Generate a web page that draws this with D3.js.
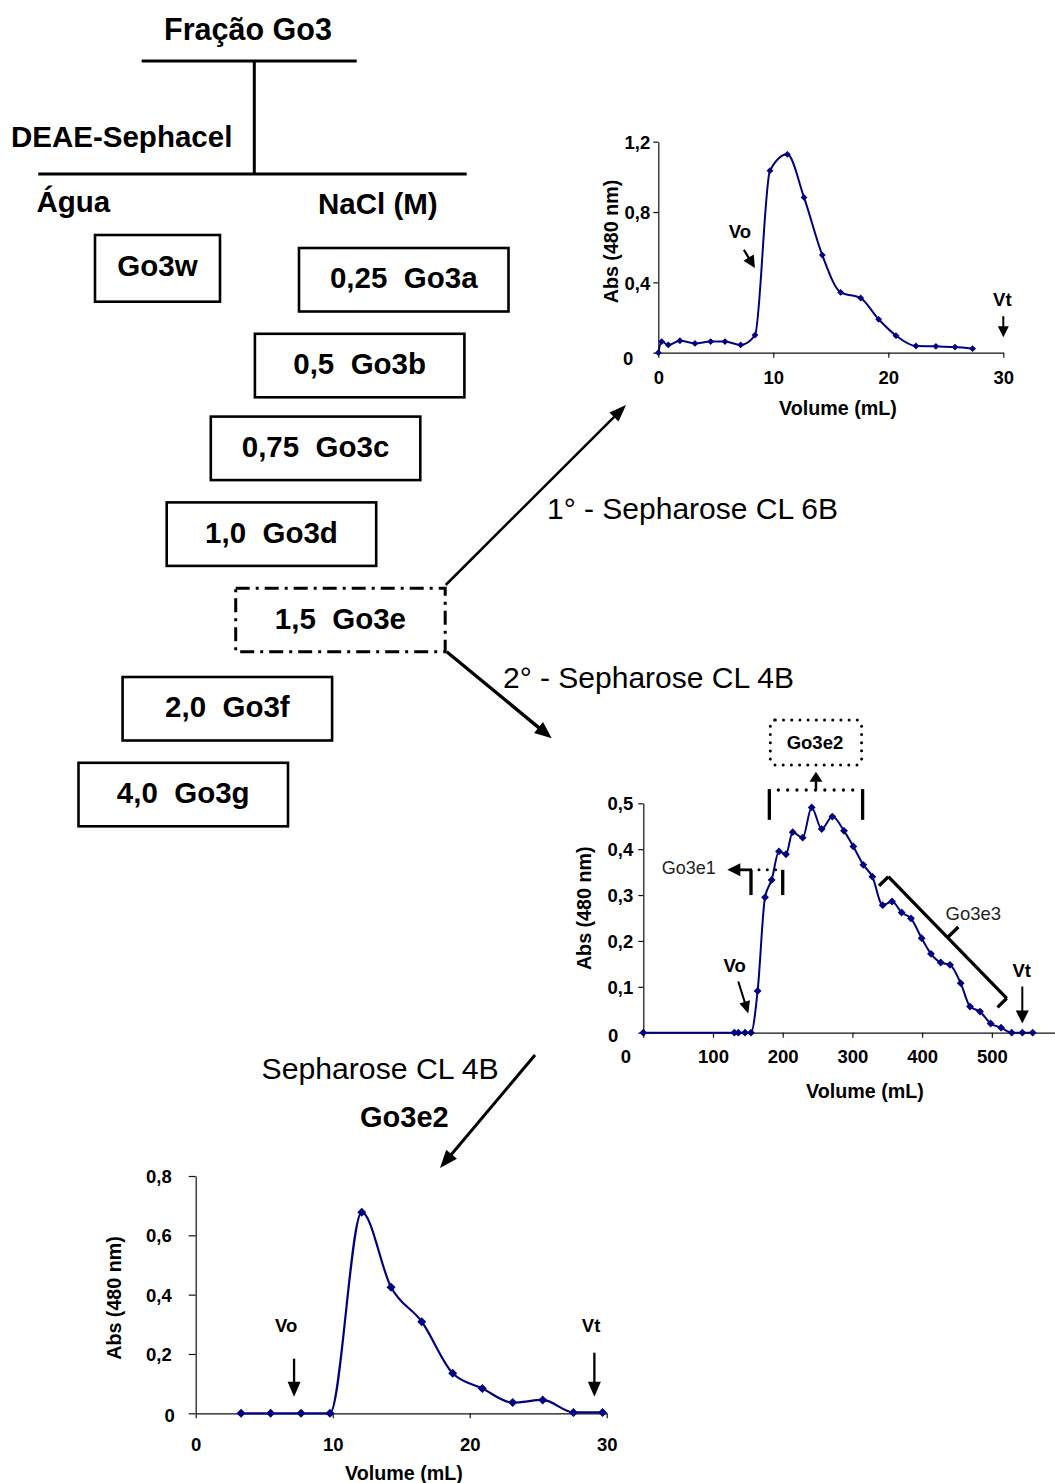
<!DOCTYPE html>
<html>
<head>
<meta charset="utf-8">
<script src="https://cdn.jsdelivr.net/npm/d3@7"></script>
<style>
  body { margin: 0; background: #fff; }
  svg { display: block; font-family: "Liberation Sans", Arial, Helvetica, sans-serif; }
</style>
</head>
<body>
<svg id="fig" width="1055" height="1483"></svg>
<script>
// ---------------- Data ----------------
// DEAE-Sephacel fractions of Go3
const waterFraction = "Go3w";
const saltFractions = ["Go3a", "Go3b", "Go3c", "Go3d", "Go3e", "Go3f", "Go3g"];
const saltMolarity = ["0,25", "0,5", "0,75", "1,0", "1,5", "2,0", "4,0"];

// 1st gel filtration of Go3e (Sepharose CL 6B)
const run1Volume = [0, 0.29, 0.87, 1.88, 3.19, 4.55, 5.8, 7.16, 8.41, 9.71, 11.22, 12.67, 14.26, 15.86, 17.6, 19.16, 20.67, 22.41, 24.14, 25.8, 27.33];
const run1Abs = [0, 0.063, 0.044, 0.068, 0.053, 0.063, 0.063, 0.044, 0.10, 1.035, 1.128, 0.883, 0.555, 0.343, 0.311, 0.19, 0.097, 0.038, 0.036, 0.032, 0.023];
const run1XTicks = [0, 10, 20, 30];
const run1YTicks = [0, 0.4, 0.8, 1.2];
const run1Markers = { Vo: 8.4, Vt: 30 };

// 2nd gel filtration of Go3e (Sepharose CL 4B)
const run2Volume = [0, 130.6, 136.3, 145.9, 154.5, 164, 174.6, 184.1, 194.6, 204.7, 214.3, 228.6, 241.5, 255.9, 271.2, 287.9, 301.3, 315.6, 328.6, 343.4, 356.8, 370.6, 384, 399.3, 412.7, 426.6, 440, 455.3, 468.7, 483, 498.3, 513.2, 528.5, 543.8, 558.6];
const run2Abs = [0, 0, 0, 0, 0, 0.091, 0.295, 0.333, 0.395, 0.389, 0.437, 0.425, 0.491, 0.444, 0.471, 0.44, 0.406, 0.366, 0.34, 0.278, 0.286, 0.262, 0.249, 0.206, 0.172, 0.153, 0.148, 0.108, 0.057, 0.046, 0.020, 0.011, 0, 0, 0];
const run2XTicks = [0, 100, 200, 300, 400, 500];
const run2YTicks = [0, 0.1, 0.2, 0.3, 0.4, 0.5];
const run2Markers = { Vo: 150.6, Vt: 543.7 };
// pooled sub-fractions (volume ranges, mL)
const poolGo3e1 = [154.5, 200];
const poolGo3e2 = [180.8, 314.6];
const poolGo3e3 = [351.5, 521.4];

// Re-chromatography of Go3e2 (Sepharose CL 4B)
const run3Volume = [3.31, 5.47, 7.69, 9.8, 12.12, 14.26, 16.5, 18.76, 20.92, 23.14, 25.33, 27.57, 29.7];
const run3Abs = [0, 0, 0, 0, 0.678, 0.425, 0.309, 0.135, 0.084, 0.036, 0.045, 0.003, 0.003];
const run3XTicks = [0, 10, 20, 30];
const run3YTicks = [0, 0.2, 0.4, 0.6, 0.8];
const run3Markers = { Vo: 7.18, Vt: 29.1 };

// ---------------- Drawing ----------------
const svg = d3.select("#fig");
svg.append("rect").attr("width", 1055).attr("height", 1483).attr("fill", "#fff");

const INK = "#000";
const SERIES = "#000080";
const TICK_FS = 18.5;
const TITLE_FS = 19.7;

function label(g, s, x, cy, o = {}) {
  const size = o.size || TICK_FS;
  return g.append("text")
    .attr("x", x).attr("y", cy + 0.36 * size)
    .attr("font-size", size)
    .attr("font-weight", o.weight || "bold")
    .attr("text-anchor", o.anchor || "middle")
    .attr("fill", o.fill || INK)
    .style("white-space", "pre")
    .text(s);
}

function arrow(g, x1, y1, x2, y2, head, width, sw) {
  const a = Math.atan2(y2 - y1, x2 - x1);
  const bx = x2 - head * Math.cos(a), by = y2 - head * Math.sin(a);
  g.append("line").attr("x1", x1).attr("y1", y1).attr("x2", bx + Math.cos(a)).attr("y2", by + Math.sin(a))
    .attr("stroke", INK).attr("stroke-width", sw);
  const px = -Math.sin(a) * width / 2, py = Math.cos(a) * width / 2;
  g.append("path").attr("d", `M${x2},${y2}L${bx + px},${by + py}L${bx - px},${by - py}Z`).attr("fill", INK);
}

function seg(g, x1, y1, x2, y2, sw, dash) {
  const l = g.append("line").attr("x1", x1).attr("y1", y1).attr("x2", x2).attr("y2", y2)
    .attr("stroke", INK).attr("stroke-width", sw);
  if (dash) l.attr("stroke-dasharray", dash).attr("stroke-linecap", "round");
  return l;
}

const commaFmt = v => v === 0 ? "0" : d3.format(".1f")(v).replace(".", ",");

function drawChart(o) {
  const g = svg.append("g");
  const x = d3.scaleLinear().domain(o.xDomain).range([o.left, o.right]);
  const y = d3.scaleLinear().domain(o.yDomain).range([o.bottom, o.top]);

  const ya = g.append("g").attr("transform", `translate(${o.left},0)`)
    .call(d3.axisLeft(y).tickValues(o.yTicks).tickSize(o.yTickSize).tickSizeOuter(0)
      .tickPadding(o.yPad).tickFormat(commaFmt));
  const xa = g.append("g").attr("transform", `translate(0,${o.bottom})`)
    .call(d3.axisBottom(x).tickValues(o.xTicks).tickSize(5).tickSizeOuter(0)
      .tickPadding(o.xPad).tickFormat(d3.format("d")));

  [ya, xa].forEach(a => {
    a.select(".domain").attr("stroke", "#111").attr("stroke-width", 1.2);
    a.selectAll(".tick line").attr("stroke", "#111").attr("stroke-width", 1.2);
    a.selectAll(".tick text").attr("font-size", TICK_FS).attr("font-weight", "bold")
      .attr("fill", INK).attr("font-family", "Liberation Sans, Arial, sans-serif");
  });
  ya.selectAll(".tick text").attr("dy", "0.36em");
  ya.selectAll(".tick").filter(d => d === 0).select("text")
    .attr("dx", o.yZeroDx).attr("dy", (0.36 * TICK_FS + o.yZeroDy) + "px");
  xa.selectAll(".tick").filter(d => d === 0).select("text").attr("dx", o.xZeroDx || 0);

  // axis titles
  label(g, "Volume (mL)", o.xTitle[0], o.xTitle[1], { size: TITLE_FS });
  g.append("text")
    .attr("transform", `translate(${o.yTitle[0] + 0.36 * TITLE_FS},${o.yTitle[1]}) rotate(-90)`)
    .attr("text-anchor", "middle").attr("font-size", TITLE_FS).attr("font-weight", "bold")
    .attr("fill", INK).text("Abs (480 nm)");

  // elution profile
  const pts = o.vol.map((v, i) => [v, o.abs[i]]);
  g.append("path").datum(pts)
    .attr("d", d3.line().x(d => x(d[0])).y(d => y(d[1])).curve(d3.curveMonotoneX))
    .attr("fill", "none").attr("stroke", SERIES).attr("stroke-width", o.lineW || 2);
  const r = o.marker;
  g.selectAll("path.pt").data(pts).join("path").attr("class", "pt")
    .attr("d", d => `M${x(d[0])},${y(d[1]) - r}L${x(d[0]) + r},${y(d[1])}L${x(d[0])},${y(d[1]) + r}L${x(d[0]) - r},${y(d[1])}Z`)
    .attr("fill", SERIES);

  return { g, x, y };
}

// Vo / Vt arrows: tip at (volume, abs); tail and label offsets in px
function volMarker(c, name, vol, absTip, tail, lab, head, hw, sw) {
  const tx = c.x(vol), ty = c.y(absTip);
  arrow(c.g, tx + tail[0], ty + tail[1], tx, ty, head, hw, sw);
  label(c.g, name, tx + lab[0], ty + lab[1], { size: TICK_FS });
}

// ---- Chart 1: Sepharose CL 6B ----
const c1 = drawChart({
  left: 658.3, right: 1003.3, top: 141.7, bottom: 352.7,
  xDomain: [0, 30], yDomain: [0, 1.2],
  xTicks: run1XTicks, yTicks: run1YTicks,
  yTickSize: 5, yPad: 3, xPad: 13, yZeroDx: -17, yZeroDy: 5,
  xTitle: [838, 408], yTitle: [610.5, 241.5],
  vol: run1Volume, abs: run1Abs, marker: 3.4
});
volMarker(c1, "Vo", run1Markers.Vo, 0.482, [-11, -18], [-15, -37], 12, 12, 2.2);
volMarker(c1, "Vt", run1Markers.Vt, 0.088, [0, -21], [-1, -38], 11, 11, 2);

// ---- Chart 2: Sepharose CL 4B ----
const c2 = drawChart({
  left: 643.3, right: 1055, top: 803.3, bottom: 1032.7,
  xDomain: [0, 590.6], yDomain: [0, 0.5],
  xTicks: run2XTicks, yTicks: run2YTicks,
  yTickSize: 5, yPad: 5, xPad: 12, yZeroDx: -15, yZeroDy: 2, xZeroDx: -18,
  xTitle: [865, 1091], yTitle: [583.5, 908.3],
  vol: run2Volume, abs: run2Abs, marker: 3.9
});
volMarker(c2, "Vo", run2Markers.Vo, 0.042, [-10, -32], [-13.6, -48], 12, 11, 2);
volMarker(c2, "Vt", run2Markers.Vt, 0.020, [0, -37], [-0.6, -53], 13, 13, 2);

// pooled fractions
{
  const g = c2.g, x = c2.x, y = c2.y;
  // Go3e2 — bracket, upward arrow and dotted box
  const xa = x(poolGo3e2[0]), xb = x(poolGo3e2[1]);
  const yTop = y(0.531), yBot = y(0.464);
  seg(g, xa, yTop, xa, yBot, 3.3);
  seg(g, xb, yTop, xb, yBot, 3.3);
  seg(g, xa + 9, y(0.529), xb - 6, y(0.529), 3.3, "0 9.3");
  const xm = (xa + xb) / 2;
  arrow(g, xm, y(0.529), xm, y(0.569), 10, 13, 2.5);
  g.append("rect").attr("x", xa + 1).attr("y", y(0.6816))
    .attr("width", xb - xa - 2).attr("height", y(0.5835) - y(0.6816))
    .attr("rx", 5).attr("fill", "none").attr("stroke", INK).attr("stroke-width", 3)
    .attr("stroke-dasharray", "0 8.2").attr("stroke-linecap", "round");
  label(g, "Go3e2", xm - 1, y(0.633), { size: 18.5 });

  // Go3e1 — bracket with arrow to the left
  const ea = x(poolGo3e1[0]), eb = x(poolGo3e1[1]);
  const e1y = y(0.355);
  seg(g, ea, e1y, ea, y(0.300), 3.3);
  seg(g, eb, e1y, eb, y(0.300), 3.3);
  seg(g, ea + 8, e1y, eb - 6, e1y, 3, "0 8.3");
  arrow(g, ea + 1, e1y, x(120.5), e1y, 13, 13, 2.8);
  label(g, "Go3e1", x(65.3), y(0.359), { size: 18, weight: "normal", fill: "#222" });

  // Go3e3 — slanted bracket along the descending limb
  const p1 = [x(poolGo3e3[0]), y(0.340)], p2 = [x(poolGo3e3[1]), y(0.075)];
  const dx = p2[0] - p1[0], dy = p2[1] - p1[1], len = Math.hypot(dx, dy);
  const nx = dy / len, ny = -dx / len; // normal pointing up-right
  seg(g, p1[0], p1[1], p2[0], p2[1], 3.3);
  seg(g, p1[0], p1[1], p1[0] - 13 * nx, p1[1] - 13 * ny, 3.3);
  seg(g, p2[0], p2[1], p2[0] - 13 * nx, p2[1] - 13 * ny, 3.3);
  const mx = (p1[0] + p2[0]) / 2, my = (p1[1] + p2[1]) / 2;
  seg(g, mx, my, mx + 15 * nx, my + 15 * ny, 3.3);
  label(g, "Go3e3", x(473.4), y(0.261), { size: 18.5, weight: "normal", fill: "#222" });
}

// ---- Chart 3: Go3e2 on Sepharose CL 4B ----
const c3 = drawChart({
  left: 195.7, right: 606.7, top: 1176, bottom: 1413.3,
  xDomain: [0, 30], yDomain: [0, 0.8],
  xTicks: run3XTicks, yTicks: run3YTicks,
  yTickSize: 7, yPad: 17, xPad: 20, yZeroDx: 3, yZeroDy: 2,
  xTitle: [404, 1473], yTitle: [114, 1298],
  vol: run3Volume, abs: run3Abs, marker: 4.5, lineW: 2.2
});
volMarker(c3, "Vo", run3Markers.Vo, 0.056, [0, -38], [-8, -71], 15, 13, 2.3);
volMarker(c3, "Vt", run3Markers.Vt, 0.056, [0, -44], [-3.3, -71], 15, 13, 2.3);

// ---------------- Fractionation scheme ----------------
{
  const g = svg.append("g");
  const FS = 29.5;
  label(g, "Fração Go3", 248, 29.5, { size: 30.5 });
  seg(g, 141.7, 61, 356.7, 61, 3);
  seg(g, 254.3, 61, 254.3, 174, 3);
  seg(g, 38.3, 174, 466.7, 174, 3);
  label(g, "DEAE-Sephacel", 11, 136, { size: FS, anchor: "start" });
  label(g, "Água", 36.5, 201, { size: FS, anchor: "start" });
  label(g, "NaCl (M)", 318, 203, { size: FS, anchor: "start" });

  // water-eluted fraction
  g.append("rect").attr("x", 95).attr("y", 235).attr("width", 125).attr("height", 66.7)
    .attr("fill", "none").attr("stroke", INK).attr("stroke-width", 2.6);
  label(g, waterFraction, 157.5, 265, { size: FS });

  // salt-eluted fractions, stepping down the gradient
  const boxW = 209.5, boxH = 63.5, selected = 4;
  let k = 0;
  saltFractions.forEach((name, i) => {
    let left;
    if (i === selected) left = 235.7;
    else { left = 299 - 44.1 * k; k++; }
    const top = 248 + 85.8 * i - (i >= 2 && i <= 4 ? 3 : 0);
    const r = g.append("rect").attr("x", left).attr("y", top).attr("width", boxW).attr("height", boxH)
      .attr("fill", "none").attr("stroke", INK).attr("stroke-width", i === selected ? 3 : 2.6);
    if (i === selected) r.attr("stroke-dasharray", "14 6 3 6");
    label(g, saltMolarity[i] + "  " + name, left + boxW / 2, top + boxH / 2 - 2, { size: FS });
  });

  // separation steps for Go3e
  arrow(g, 445.7, 585, 626, 405, 17, 13, 2.5);
  label(g, "1° - Sepharose CL 6B", 547, 508, { size: 30, weight: "normal", anchor: "start" });
  arrow(g, 446.7, 651.7, 551.7, 738.3, 17, 14, 3.3);
  label(g, "2° - Sepharose CL 4B", 503, 677, { size: 30, weight: "normal", anchor: "start" });
  arrow(g, 535, 1055, 440, 1168, 18, 14, 3);
  label(g, "Sepharose CL 4B", 261.5, 1068, { size: 30.2, weight: "normal", anchor: "start" });
  label(g, "Go3e2", 360, 1117, { size: 29, anchor: "start" });
}
</script>
</body>
</html>
